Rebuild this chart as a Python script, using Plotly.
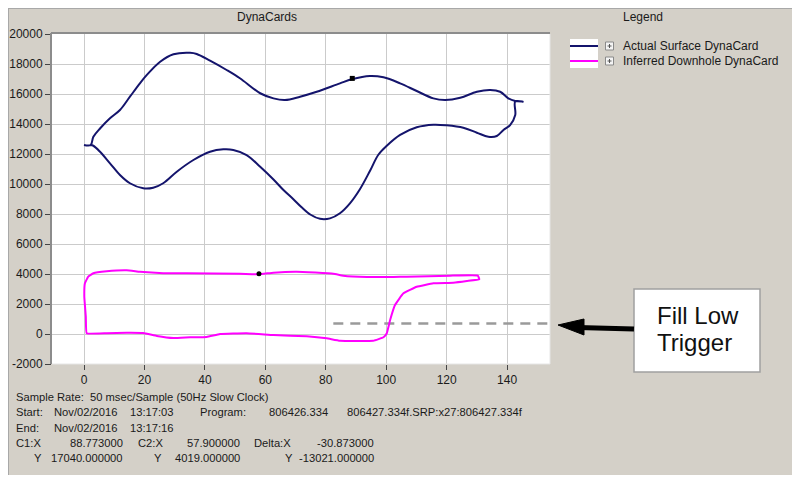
import plotly.graph_objects as go

# ---------------- data ----------------
surface_x = [0.0, 2.2, 3.1, 5.3, 8.6, 11.9, 15.2, 18.5, 20.8, 25.2, 29.6, 35.1, 37.3, 41.7, 47.2,
             51.6, 58.3, 62.7, 66.5, 71.5, 77.0, 84.7, 88.6, 94.6, 99.1, 104.6, 110.1, 115.6,
             119.5, 124.5, 130.0, 134.4, 137.7, 140.4, 142.7, 145.2, 142.7, 142.7, 141.0, 138.8,
             136.6, 133.8, 130.0, 125.5, 120.0, 115.6, 110.1, 104.6, 100.2, 97.4, 94.7, 91.3,
             88.0, 84.7, 81.4, 78.1, 75.0, 72.0, 69.2, 66.0, 62.7, 58.3, 53.8, 49.4, 46.1, 41.7,
             36.2, 30.7, 26.2, 22.9, 19.6, 15.2, 11.9, 8.6, 5.3, 3.1, 2.2]
surface_y = [12600, 12600, 13150, 13700, 14380, 14930, 15820, 16710, 17270, 18150, 18650, 18750,
             18670, 18220, 17600, 17050, 16050, 15710, 15600, 15820, 16150, 16710, 16980, 17200,
             17110, 16710, 16200, 15710, 15600, 15750, 16150, 16270, 16150, 15710, 15530, 15490,
             15500, 14600, 13930, 13600, 13200, 13150, 13420, 13750, 13910, 13950, 13780, 13270,
             12550, 11950, 10900, 9650, 8710, 8050, 7710, 7680, 7950, 8450, 9000, 9600, 10300,
             11150, 11930, 12270, 12310, 12150, 11600, 10820, 10050, 9750, 9710, 10050, 10600,
             11380, 12150, 12550, 12600]

downhole_x = [130.3, 121.1, 106.8, 102.4, 93.6, 85.8, 82.5, 70.4, 62.7, 57.8, 51.6, 34.0, 26.2,
              18.5, 14.1, 7.5, 3.1, 1.4, 0.3, 0.1, 0.6, 0.9, 7.5, 14.1, 19.6, 24.1, 29.6, 35.1,
              40.6, 45.0, 53.8, 62.7, 73.7, 80.3, 84.7, 95.7, 99.1, 100.2, 101.3, 102.9, 105.7,
              110.1, 115.6, 122.2, 126.7, 130.8, 130.3]
downhole_y = [3890, 3890, 3820, 3800, 3800, 3890, 4020, 4150, 4090, 3980, 4020, 4050, 4050,
              4150, 4250, 4180, 4050, 3820, 3380, 2490, 1150, 50, 50, 90, 70, -130, -270, -220,
              -200, 0, 50, -70, -150, -290, -450, -450, -220, 50, 930, 1930, 2710, 3150, 3380,
              3420, 3530, 3650, 3890]

cursor1 = (88.773, 17040.0)
cursor2 = (57.9, 4019.0)
fill_low_trigger = 700
trigger_x = [82.5, 160]

x_ticks = [0, 20, 40, 60, 80, 100, 120, 140]
y_ticks = list(range(-2000, 20001, 2000))
y_tick_labels = [str(v) for v in y_ticks]

series_names = ["Actual Surface DynaCard", "Inferred Downhole DynaCard"]

# ---------------- layout helpers ----------------
# page body margin offsets the figure by 8px; helpers take screenshot pixels
OFF = 8
W, H = 800, 481
PL, PR, PT, PB = 52 - OFF, 550 - OFF, 34 - OFF, 364 - OFF


def PX(sx):
    return (sx - OFF - PL) / (PR - PL)


def PY(sy):
    return (PB - (sy - OFF)) / (PB - PT)


GRAY = "#d4d0c8"
NAVY = "#14146c"
MAG = "#ff00ff"
TXT = "#1a1a1a"
FONT = "Liberation Sans"

fig = go.Figure()

fig.add_trace(go.Scatter(x=trigger_x, y=[fill_low_trigger] * len(trigger_x), mode="lines",
                         line=dict(color="#9a9a9a", width=2.5, dash="10px,7px"),
                         hoverinfo="skip"))
fig.add_trace(go.Scatter(x=surface_x, y=surface_y, mode="lines", name=series_names[0],
                         line=dict(color=NAVY, width=2, shape="spline", smoothing=1.0)))
fig.add_trace(go.Scatter(x=downhole_x, y=downhole_y, mode="lines", name=series_names[1],
                         line=dict(color=MAG, width=2, shape="spline", smoothing=0.3)))
fig.add_trace(go.Scatter(x=[cursor1[0]], y=[cursor1[1]], mode="markers",
                         marker=dict(symbol="square", size=5, color="black")))
fig.add_trace(go.Scatter(x=[cursor2[0]], y=[cursor2[1]], mode="markers",
                         marker=dict(symbol="circle", size=5, color="black")))

shapes = []
# white strip at the bottom of the panel
shapes.append(dict(type="rect", xref="paper", yref="paper", x0=PX(0), x1=PX(W + 20), y0=PY(475), y1=PY(H + 20),
                   fillcolor="white", line=dict(width=0), layer="below"))
# panel border
shapes.append(dict(type="line", xref="paper", yref="paper", x0=PX(8), x1=PX(W + 10), y0=PY(8.5), y1=PY(8.5),
                   line=dict(color="#a8a8a8", width=1)))
shapes.append(dict(type="line", xref="paper", yref="paper", x0=PX(8.5), x1=PX(8.5), y0=PY(8), y1=PY(475),
                   line=dict(color="#a8a8a8", width=1)))
# plot sunken border
shapes.append(dict(type="line", xref="paper", yref="paper", x0=PX(51), x1=PX(550), y0=PY(33), y1=PY(33),
                   line=dict(color="#8c8c8c", width=2)))
shapes.append(dict(type="line", xref="paper", yref="paper", x0=PX(51), x1=PX(51), y0=PY(33), y1=PY(364),
                   line=dict(color="#8c8c8c", width=2)))
shapes.append(dict(type="line", xref="paper", yref="paper", x0=PX(550), x1=PX(550), y0=PY(34), y1=PY(364),
                   line=dict(color="#e6e6e6", width=1)))
shapes.append(dict(type="line", xref="paper", yref="paper", x0=PX(52), x1=PX(550), y0=PY(364), y1=PY(364),
                   line=dict(color="#e6e6e6", width=1)))

# legend
shapes.append(dict(type="rect", xref="paper", yref="paper", x0=PX(570), x1=PX(598), y0=PY(39), y1=PY(68),
                   fillcolor="white", line=dict(width=0)))
leg_rows = [(46, NAVY), (61, MAG)]
for yy, col in leg_rows:
    shapes.append(dict(type="line", xref="paper", yref="paper", x0=PX(570), x1=PX(598), y0=PY(yy), y1=PY(yy),
                       line=dict(color=col, width=2)))
    shapes.append(dict(type="rect", xref="paper", yref="paper", x0=PX(605.5), x1=PX(613.5),
                       y0=PY(yy - 4), y1=PY(yy + 4), fillcolor="#f4f4f4", line=dict(color="#8a8a8a", width=1)))
    shapes.append(dict(type="line", xref="paper", yref="paper", x0=PX(607.5), x1=PX(611.5),
                       y0=PY(yy), y1=PY(yy), line=dict(color="#555", width=1)))
    shapes.append(dict(type="line", xref="paper", yref="paper", x0=PX(609.5), x1=PX(609.5),
                       y0=PY(yy - 2), y1=PY(yy + 2), line=dict(color="#555", width=1)))

# callout box and arrow
shapes.append(dict(type="rect", xref="paper", yref="paper", x0=PX(634), x1=PX(760), y0=PY(289), y1=PY(372),
                   fillcolor="white", line=dict(color="#a0a0a0", width=1.5)))
shapes.append(dict(type="line", xref="paper", yref="paper", x0=PX(578), x1=PX(634), y0=PY(327.5), y1=PY(329),
                   line=dict(color="black", width=5)))
shapes.append(dict(type="path", xref="paper", yref="paper",
                   path=f"M {PX(558)} {PY(325)} L {PX(584)} {PY(319)} L {PX(584)} {PY(335)} Z",
                   fillcolor="black", line=dict(color="black", width=1)))

annotations = []


def txt(px, py, s, anchor="left", size=12, color=TXT):
    annotations.append(dict(xref="paper", yref="paper", x=PX(px), y=PY(py), text=s, showarrow=False,
                            xanchor=anchor, yanchor="middle",
                            font=dict(family=FONT, size=size, color=color)))


txt(267, 17, "DynaCards", "center")
txt(621, 17, "Legend")
txt(621, 46, series_names[0])
txt(621, 61, series_names[1])

BS = 11.2
txt(14, 397, "Sample Rate:  50 msec/Sample (50Hz Slow Clock)", size=BS)
txt(14, 412, "Start:", size=BS)
txt(52, 412, "Nov/02/2016", size=BS)
txt(128, 412, "13:17:03", size=BS)
txt(198, 412, "Program:", size=BS)
txt(267, 412, "806426.334", size=BS)
txt(345, 412, "806427.334f.SRP:x27:806427.334f", size=BS)
txt(14, 428, "End:", size=BS)
txt(52, 428, "Nov/02/2016", size=BS)
txt(128, 428, "13:17:16", size=BS)
txt(14, 443, "C1:X", size=BS)
txt(125, 443, f"{cursor1[0]:.6f}", "right", size=BS)
txt(136, 443, "C2:X", size=BS)
txt(242, 443, f"{cursor2[0]:.6f}", "right", size=BS)
txt(252, 443, "Delta:X", size=BS)
txt(376, 443, f"{cursor2[0] - cursor1[0]:.6f}", "right", size=BS)
txt(37.5, 458, "Y", "center", size=BS)
txt(125, 458, f"{cursor1[1]:.6f}", "right", size=BS)
txt(157.5, 458, "Y", "center", size=BS)
txt(242, 458, f"{cursor2[1]:.6f}", "right", size=BS)
txt(289, 458, "Y", "center", size=BS)
txt(376, 458, f"{cursor2[1] - cursor1[1]:.6f}", "right", size=BS)

txt(655, 315, "Fill Low", size=24, color="#111")
txt(655, 342, "Trigger", size=24, color="#111")

fig.update_layout(
    width=W, height=H,
    margin=dict(l=PL, r=W - PR, t=PT, b=H - PB, pad=0, autoexpand=False),
    paper_bgcolor=GRAY, plot_bgcolor="white",
    showlegend=False,
    shapes=shapes, annotations=annotations,
    font=dict(family=FONT, size=12, color=TXT),
    xaxis=dict(range=[-10.59, 154.2], tickvals=x_ticks, ticks="outside", ticklen=5, tickcolor="#444",
               showgrid=True, gridcolor="#cbcbcb", gridwidth=1, zeroline=False, showline=False,
               tickfont=dict(family=FONT, size=12, color=TXT), fixedrange=True, automargin=False),
    yaxis=dict(range=[-2000, 20000], tickvals=y_ticks, ticktext=y_tick_labels, ticks="outside",
               ticklen=6, tickcolor="#444",
               showgrid=True, gridcolor="#cbcbcb", gridwidth=1, zeroline=False, showline=False,
               tickfont=dict(family=FONT, size=12, color=TXT), fixedrange=True, automargin=False),
)

fig.write_html("out.html")
